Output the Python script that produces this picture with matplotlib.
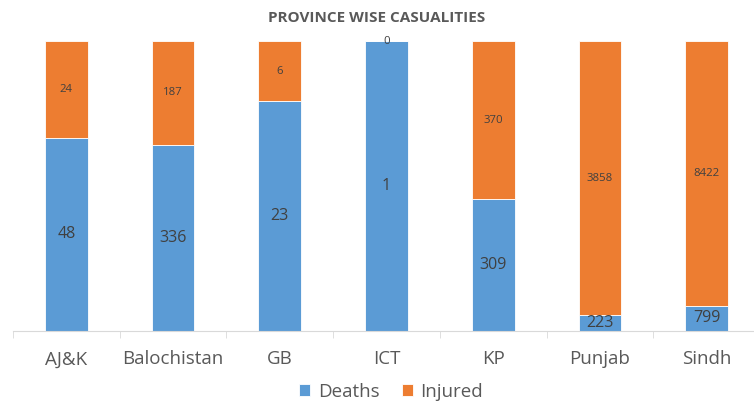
import matplotlib.pyplot as plt
import numpy as np

# === DATA ===
provinces = ['AJ&K', 'Balochistan', 'GB', 'ICT', 'KP', 'Punjab', 'Sindh']
deaths = np.array([48, 336, 23, 1, 309, 223, 799])
injured = np.array([24, 187, 6, 0, 370, 3858, 8422])

# === 100% STACKED ===
total = deaths + injured
deaths_pct = deaths / total * 100
injured_pct = injured / total * 100

blue = '#5B9BD5'
orange = '#ED7D31'
txt = '#404040'

plt.rcParams['font.family'] = ['Open Sans', 'DejaVu Sans']

fig = plt.figure(figsize=(7.54, 4.05), dpi=100)
ax = fig.add_axes([13 / 754, 74 / 405, 747 / 754, 290 / 405])

x = np.arange(len(provinces))
b1 = ax.bar(x, deaths_pct, width=0.4, color=blue, edgecolor='white', linewidth=0.6, label='Deaths')
b2 = ax.bar(x, injured_pct, width=0.4, bottom=deaths_pct, color=orange, edgecolor='white', linewidth=0.6, label='Injured')

ax.bar_label(b1, labels=[str(v) for v in deaths], label_type='center', fontsize=11.5, color=txt)
ax.bar_label(b2, labels=[str(v) for v in injured], label_type='center', fontsize=8.2, color=txt)

ax.set_xlim(-0.5, len(provinces) - 0.5)
ax.set_ylim(0, 100)
ax.set_yticks([])
ax.set_xticks(x)
ax.set_xticklabels(provinces, fontsize=13.5, color='#595959')
ax.set_xticks(np.arange(len(provinces) + 1) - 0.5, minor=True)
ax.tick_params(axis='x', which='major', length=0, pad=14)
ax.tick_params(axis='x', which='minor', length=5, color='#D9D9D9')
for s in ['top', 'right', 'left']:
    ax.spines[s].set_visible(False)
ax.spines['bottom'].set_color('#D9D9D9')

fig.text(0.5, 1 - 18 / 405, 'PROVINCE WISE CASUALITIES', ha='center', va='center',
         fontsize=11, fontweight='bold', color='#595959')

fig.legend(loc='center', bbox_to_anchor=(391 / 754, 1 - 392 / 405), ncol=2, frameon=False,
           fontsize=13.5, handlelength=0.6, handleheight=0.6, handletextpad=0.4,
           columnspacing=1.2, labelcolor='#595959')

plt.savefig('out.png', dpi=100)
